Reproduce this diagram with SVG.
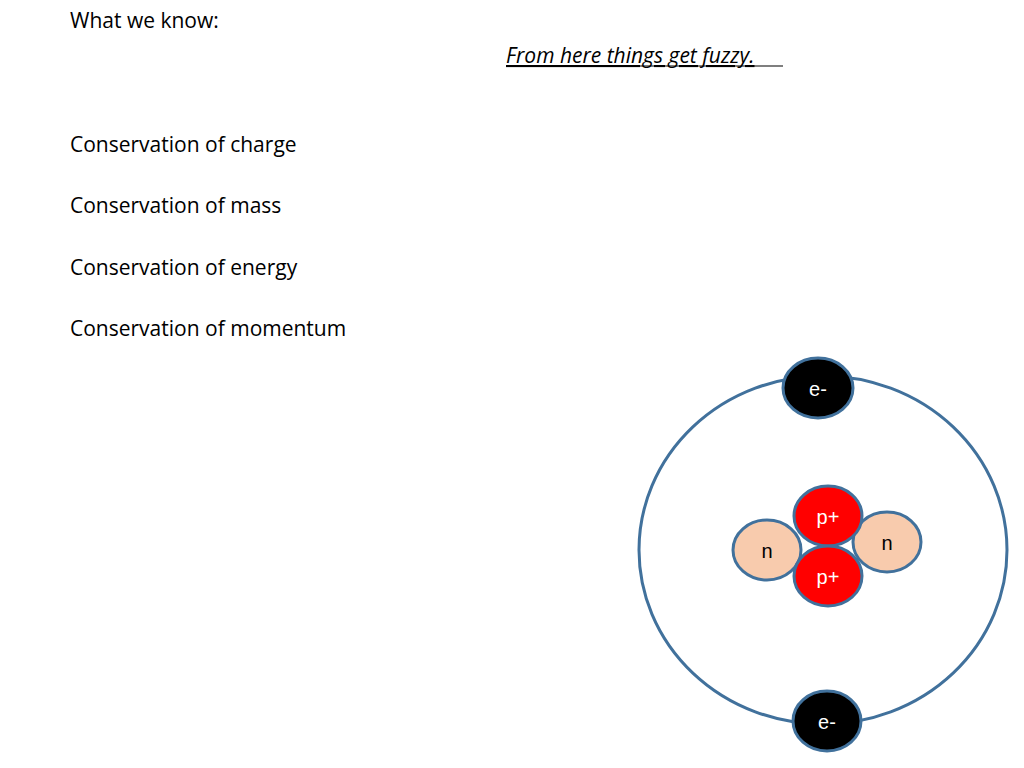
<svg xmlns="http://www.w3.org/2000/svg" width="1024" height="768" viewBox="0 0 1024 768">
<style>
.t{font-family:"Open Sans","Liberation Sans",sans-serif;font-size:21px;fill:#000}
.s{stroke:#41719c;stroke-width:3}
.l{font-family:"Liberation Sans",Arial,sans-serif;font-size:20px;text-anchor:middle}
</style>
<rect width="1024" height="768" fill="#fff"/>
<text class="t" x="70" y="28">What we know:</text>
<text class="t" x="506" y="63" font-style="italic" text-decoration="underline">From here things get fuzzy.</text>
<line x1="506" y1="66" x2="783" y2="66" stroke="#000" stroke-width="1.2"/>
<text class="t" x="70" y="152">Conservation of charge</text>
<text class="t" x="70" y="213">Conservation of mass</text>
<text class="t" x="70" y="275">Conservation of energy</text>
<text class="t" x="70" y="336">Conservation of momentum</text>
<g id="orbit"><ellipse cx="823" cy="550" rx="184" ry="174" fill="none" class="s"/></g>
<g id="e1"><ellipse cx="818" cy="388" rx="35" ry="30" fill="#000" class="s"/><text class="l" x="818" y="396" fill="#fff">e-</text></g>
<g id="e2"><ellipse cx="827" cy="721" rx="34" ry="30" fill="#000" class="s"/><text class="l" x="827" y="729" fill="#fff">e-</text></g>
<g id="n1"><ellipse cx="767" cy="550" rx="34" ry="30" fill="#f8cbad" class="s"/><text class="l" x="767" y="558" fill="#000">n</text></g>
<g id="n2"><ellipse cx="887" cy="542" rx="34" ry="30" fill="#f8cbad" class="s"/><text class="l" x="887" y="550" fill="#000">n</text></g>
<g id="p1"><ellipse cx="828" cy="516" rx="34" ry="30" fill="#ff0000" class="s"/><text class="l" x="828" y="524" fill="#fff">p+</text></g>
<g id="p2"><ellipse cx="828" cy="576" rx="34" ry="30" fill="#ff0000" class="s"/><text class="l" x="828" y="584" fill="#fff">p+</text></g>
<g id="connectors"/>
</svg>
